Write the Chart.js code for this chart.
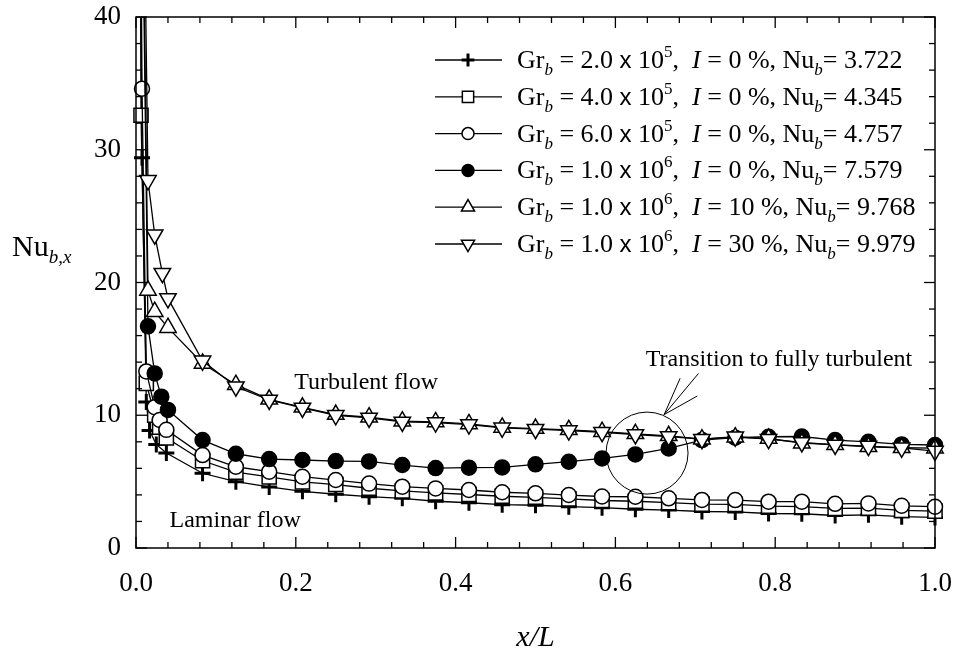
<!DOCTYPE html>
<html>
<head>
<meta charset="utf-8">
<script src="https://cdn.jsdelivr.net/npm/chart.js@4.4.1/dist/chart.umd.min.js"></script>
<style>
  html, body { margin: 0; padding: 0; background: #fff; }
  #wrap { width: 954px; height: 654px; }
</style>
</head>
<body>
<div id="wrap"><canvas id="nusselt" width="954" height="654"></canvas></div>
<script>
// stations x/L = k/24 shared by all runs downstream of the leading edge
const xMain = [0.0833, 0.125, 0.1667, 0.2083, 0.25, 0.2917, 0.3333, 0.375, 0.4167, 0.4583, 0.5,
  0.5417, 0.5833, 0.625, 0.6667, 0.7083, 0.75, 0.7917, 0.8333, 0.875, 0.9167, 0.9583, 1.0];

// leading-edge stations (first ones run off the top of the plot)
const gr2LeadX = [0.0035, 0.0075, 0.0129, 0.017, 0.0254, 0.038];
const gr4LeadX = [0.0035, 0.0063, 0.0129, 0.0234, 0.0296, 0.038];
const gr6LeadX = [0.0035, 0.0075, 0.0129, 0.0234, 0.0296, 0.038];
const gr10LeadX = [0.009, 0.015, 0.0234, 0.0317, 0.040];
const i10LeadX = [0.009, 0.015, 0.0234, 0.040];
const i30LeadX = [0.009, 0.015, 0.0234, 0.033, 0.040];

// Nu_b,x : leading-edge values, then values at xMain
const gr2Nu = [65, 29.4, 11.0, 8.85, 7.8, 7.15,
  5.63, 5.0, 4.6, 4.27, 4.05, 3.87, 3.74, 3.52, 3.41, 3.26, 3.22, 3.11, 3.04, 2.92, 2.86, 2.75,
  2.72, 2.6, 2.58, 2.45, 2.5, 2.36, 2.3];
const gr4Nu = [75, 32.6, 12.4, 10.0, 9.1, 8.3,
  6.57, 5.72, 5.35, 4.98, 4.78, 4.5, 4.3, 4.15, 4.03, 3.9, 3.82, 3.7, 3.58, 3.52, 3.42, 3.3,
  3.28, 3.15, 3.12, 2.98, 3.0, 2.83, 2.78];
const gr6Nu = [75, 34.6, 13.3, 10.6, 9.64, 8.9,
  7.0, 6.12, 5.75, 5.37, 5.12, 4.85, 4.62, 4.49, 4.37, 4.2, 4.12, 3.99, 3.88, 3.86, 3.74, 3.62,
  3.61, 3.49, 3.49, 3.33, 3.36, 3.18, 3.11];
const gr10Nu = [45, 16.7, 13.15, 11.4, 10.4,
  8.13, 7.1, 6.7, 6.63, 6.55, 6.52, 6.25, 6.02, 6.05, 6.07, 6.3, 6.5, 6.75, 7.05, 7.5, 8.13,
  8.31, 8.38, 8.4, 8.13, 8.0, 7.8, 7.76];
const i10Nu = [48, 19.4, 17.8, 16.6,
  13.9, 12.3, 11.2, 10.6, 10.05, 9.85, 9.55, 9.5, 9.35, 9.08, 9.0, 8.9, 8.76, 8.6, 8.45, 8.2,
  8.35, 8.25, 7.9, 7.78, 7.62, 7.55, 7.52];
const i30Nu = [55, 27.7, 23.6, 20.7, 18.8,
  14.1, 12.15, 11.15, 10.55, 10.0, 9.8, 9.5, 9.45, 9.3, 9.05, 8.95, 8.85, 8.72, 8.55, 8.4, 8.2,
  8.38, 8.2, 7.95, 7.76, 7.68, 7.55, 7.3];

// legend entries
const legendGr = ["2.0", "4.0", "6.0", "1.0", "1.0", "1.0"];
const legendExp = ["5", "5", "5", "6", "6", "6"];
const legendI = ["0", "0", "0", "0", "10", "30"];
const legendNu = ["3.722", "4.345", "4.757", "7.579", "9.768", "9.979"];

const xTicks = [0, 0.2, 0.4, 0.6, 0.8, 1.0];
const yTicks = [0, 10, 20, 30, 40];

const SERIF = "'Liberation Serif', 'Times New Roman', serif";

function points(lead, nu) {
  const xs = lead.concat(xMain);
  return nu.map((v, i) => ({ x: xs[i], y: v }));
}

const markers = [
  { pointStyle: "cross", radius: 8, rotation: 0, fill: "#000", width: 3 },
  { pointStyle: "rect", radius: 10, rotation: 0, fill: "#fff", width: 1.5 },
  { pointStyle: "circle", radius: 7.5, rotation: 0, fill: "#fff", width: 1.5 },
  { pointStyle: "circle", radius: 7.5, rotation: 0, fill: "#000", width: 1.5 },
  { pointStyle: "triangle", radius: 9.5, rotation: 0, fill: "#fff", width: 1.5 },
  { pointStyle: "triangle", radius: 9.5, rotation: 180, fill: "#fff", width: 1.5 },
];

const seriesData = [
  points(gr2LeadX, gr2Nu),
  points(gr4LeadX, gr4Nu),
  points(gr6LeadX, gr6Nu),
  points(gr10LeadX, gr10Nu),
  points(i10LeadX, i10Nu),
  points(i30LeadX, i30Nu),
];

const datasets = seriesData.map((d, i) => ({
  data: d,
  showLine: true,
  tension: 0,
  borderColor: "#000",
  borderWidth: 1.3,
  pointStyle: markers[i].pointStyle,
  pointRadius: markers[i].radius,
  pointRotation: markers[i].rotation,
  pointBackgroundColor: markers[i].fill,
  pointBorderColor: "#000",
  pointBorderWidth: markers[i].width,
  order: 6 - i,
  clip: { left: 4, top: 0, right: 12, bottom: 4 },
}));

function line(ctx, x1, y1, x2, y2) {
  ctx.beginPath();
  ctx.moveTo(x1, y1);
  ctx.lineTo(x2, y2);
  ctx.stroke();
}

// draws a run of text pieces: [text, size, italic, dy, family]
function richText(ctx, parts, x, y) {
  let cx = x;
  parts.forEach(([t, size, italic, dy, fam]) => {
    ctx.font = (italic ? "italic " : "") + size + "px " + (fam || SERIF);
    ctx.fillText(t, cx, y + (dy || 0));
    cx += ctx.measureText(t).width;
  });
}

function marker(ctx, m, x, y, scale) {
  ctx.fillStyle = m.fill;
  ctx.strokeStyle = "#000";
  ctx.lineWidth = m.width;
  Chart.helpers.drawPoint(ctx, { pointStyle: m.pointStyle, radius: m.radius * scale, rotation: m.rotation, borderWidth: m.width }, x, y);
}

const paper = {
  id: "paper",
  beforeDraw(chart) {
    const ctx = chart.ctx;
    ctx.save();
    ctx.fillStyle = "#fff";
    ctx.fillRect(0, 0, chart.width, chart.height);
    ctx.restore();
  },
  afterDatasetsDraw(chart) {
    const { ctx, chartArea: a, scales: { x, y } } = chart;
    ctx.save();
    ctx.strokeStyle = "#000";
    ctx.lineWidth = 1.5;
    ctx.strokeRect(a.left, a.top, a.right - a.left, a.bottom - a.top);

    // inward ticks on all four sides
    ctx.lineWidth = 1.3;
    for (let k = 0; k <= 25; k++) {
      const px = x.getPixelForValue(k * 0.04);
      const len = k % 5 === 0 ? 11 : 6;
      line(ctx, px, a.bottom, px, a.bottom - len);
      line(ctx, px, a.top, px, a.top + len);
    }
    for (let k = 0; k <= 20; k++) {
      const py = y.getPixelForValue(k * 2);
      const len = k % 5 === 0 ? 11 : 6;
      line(ctx, a.left, py, a.left + len, py);
      line(ctx, a.right, py, a.right - len, py);
    }

    ctx.fillStyle = "#000";
    ctx.textBaseline = "alphabetic";
    ctx.textAlign = "left";

    // axis titles
    richText(ctx, [["Nu", 30, false, 0], ["b,x", 19, true, 7]], 12, 256);
    ctx.textAlign = "center";
    ctx.font = "italic 30px " + SERIF;
    ctx.fillText("x/L", (a.left + a.right) / 2, 646);
    ctx.textAlign = "left";

    // flow regime notes
    ctx.font = "24px " + SERIF;
    ctx.fillText("Turbulent flow", x.getPixelForValue(0.198), y.getPixelForValue(12.0));
    ctx.fillText("Laminar flow", x.getPixelForValue(0.042), y.getPixelForValue(1.6));
    ctx.fillText("Transition to fully turbulent", x.getPixelForValue(0.638), y.getPixelForValue(13.7));

    // transition circle and pointer lines
    ctx.lineWidth = 1;
    ctx.beginPath();
    ctx.arc(x.getPixelForValue(0.6396), y.getPixelForValue(7.15), 41, 0, Math.PI * 2);
    ctx.stroke();
    const tipX = x.getPixelForValue(0.661), tipY = y.getPixelForValue(10.05);
    line(ctx, tipX, tipY, x.getPixelForValue(0.681), y.getPixelForValue(12.78));
    line(ctx, tipX, tipY, x.getPixelForValue(0.704), y.getPixelForValue(13.15));
    line(ctx, tipX, tipY, x.getPixelForValue(0.7025), y.getPixelForValue(11.45));

    // legend
    for (let i = 0; i < 6; i++) {
      const cy = 60 + i * 36.8;
      ctx.strokeStyle = "#000";
      ctx.lineWidth = 1.3;
      line(ctx, 435, cy, 502, cy);
      marker(ctx, markers[i], 468, cy, 0.8);
      ctx.fillStyle = "#000";
      richText(ctx, [
        ["Gr", 26, false, 0], ["b", 17, true, 7],
        [" = " + legendGr[i] + " ", 26, false, 0], ["x", 24, false, 0, "'Liberation Sans', sans-serif"],
        [" 10", 26, false, 0], [legendExp[i], 17, false, -11],
        [",  ", 26, false, 0], ["I", 26, true, 0],
        [" = " + legendI[i] + " %, Nu", 26, false, 0], ["b", 17, true, 7],
        ["= " + legendNu[i], 26, false, 0],
      ], 517, cy + 8);
    }
    ctx.restore();
  },
};

new Chart(document.getElementById("nusselt"), {
  type: "scatter",
  data: { datasets },
  options: {
    responsive: false,
    animation: false,
    devicePixelRatio: 1,
    layout: { padding: { top: 17, right: 19, left: 0, bottom: 0 } },
    scales: {
      x: {
        type: "linear",
        min: 0,
        max: 1,
        afterFit: (s) => { s.height = 106; s.paddingLeft = 0; s.paddingRight = 0; },
        afterBuildTicks: (s) => { s.ticks = xTicks.map((v) => ({ value: v })); },
        grid: { display: false, drawTicks: false },
        border: { display: false },
        ticks: {
          padding: 20,
          color: "#000",
          font: { family: SERIF, size: 27 },
          maxRotation: 0,
          callback: (v) => v.toFixed(1),
        },
      },
      y: {
        type: "linear",
        min: 0,
        max: 40,
        afterFit: (s) => { s.width = 136; s.paddingTop = 0; s.paddingBottom = 0; },
        afterBuildTicks: (s) => { s.ticks = yTicks.map((v) => ({ value: v })); },
        grid: { display: false, drawTicks: false },
        border: { display: false },
        ticks: {
          padding: 15,
          color: "#000",
          font: { family: SERIF, size: 27 },
          callback: (v) => String(v),
        },
      },
    },
    plugins: {
      legend: { display: false },
      tooltip: { enabled: false },
    },
  },
  plugins: [paper],
});
</script>
</body>
</html>
